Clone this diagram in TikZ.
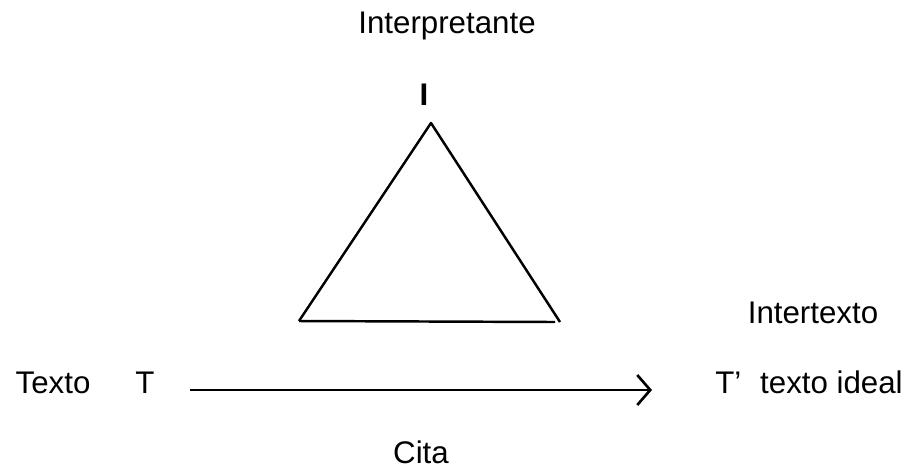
\documentclass[tikz,border=0pt]{standalone}
\usepackage{fontspec}
\setmainfont{Liberation Sans}
\usepackage{tikz}
\usetikzlibrary{arrows.meta}

\begin{document}
\begin{tikzpicture}[x=0.02cm,y=-0.02cm,
  lab/.style={inner sep=0pt,font=\fontsize{17.8}{21}\selectfont},
  edge/.style={line width=1.4pt,line join=round}]
\useasboundingbox (0,0) rectangle (909,468);
\node[lab,anchor=base] (interp) at (447,33) {Interpretante};
\node[lab,anchor=base,font=\fontsize{17.8}{21}\bfseries] (ivert) at (424,105) {I};
\coordinate (apex) at (431,123);
\coordinate (bl) at (299,321);
\coordinate (br) at (560,322);
\draw[edge] (bl) -- (apex) -- (br);
\draw[edge] (bl) -- (555,322);
\node[lab,anchor=base] (intertx) at (813,323) {Intertexto};
\node[lab,anchor=base] (texto) at (53,393) {Texto};
\node[lab,anchor=base] (tt) at (145,393) {T};
\node[lab,anchor=base west] (ideal) at (715,393) {T’\hspace{0.6em}texto ideal};
\coordinate (citaA) at (190,390);
\coordinate (citaB) at (652,390);
\draw[line width=1.5pt,-{Straight Barb[length=0.26cm,width=0.6cm,line width=1.5pt]}] (citaA) -- (citaB);
\node[lab,anchor=base] (cita) at (421,463) {Cita};
\end{tikzpicture}
\end{document}
